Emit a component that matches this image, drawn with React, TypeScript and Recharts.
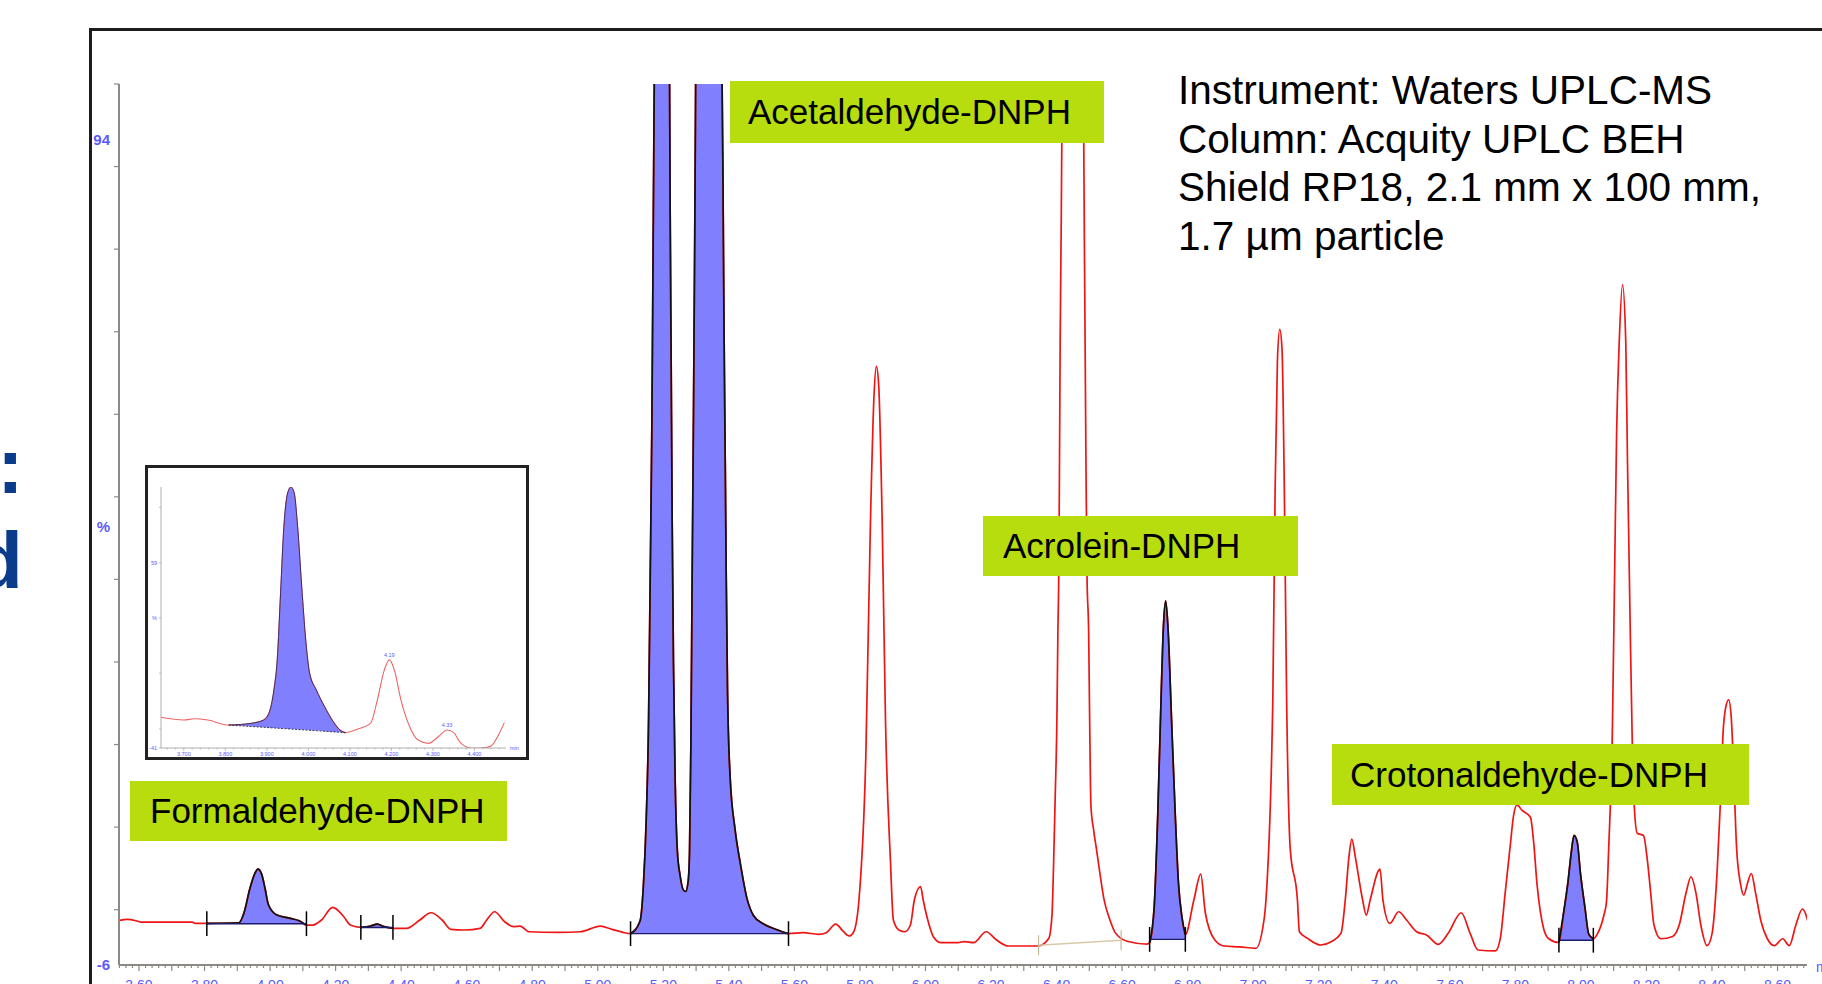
import {
  ComposedChart,
  Line,
  Area,
  XAxis,
  YAxis,
  ReferenceLine,
  ReferenceDot,
} from "recharts";

const FONT = '"Liberation Sans", Arial, Helvetica, sans-serif';
const AXIS_BLUE = "#5a5aff";
const AXIS_GREY = "#8c8883";
const PEAK_BLUE = "#8080ff";
const TRACE_RED = "#ee1515";
const CALLOUT_GREEN = "#b7dd0e";

// Main chromatogram: retention time (min), response (%)
const traceEarly: [number, number][] = [
  [3.541, -0.6], [3.564, -0.47], [3.591, -0.64], [3.605, -0.8], [3.762, -0.8],
  [3.772, -0.95], [3.807, -0.95], [3.905, -0.88], [3.921, 0.39], [3.938, 3.2],
  [3.953, 5.04], [3.963, 5.6], [3.974, 5.04], [3.985, 3.2], [3.995, 1.3],
  [4.021, 0.05], [4.062, -0.35], [4.089, -0.64], [4.111, -1.16], [4.13, -1.16],
  [4.157, -0.55], [4.191, 0.98], [4.225, -0.15], [4.245, -1.16], [4.277, -1.44],
  [4.307, -1.28], [4.327, -1.04], [4.348, -1.36], [4.375, -1.56], [4.416, -1.56],
  [4.457, -0.55], [4.491, 0.33], [4.525, -0.55], [4.552, -1.68], [4.593, -1.76],
  [4.641, -1.56], [4.661, -0.55], [4.685, 0.45], [4.716, -0.76], [4.743, -1.36],
  [4.763, -1.28], [4.79, -1.97], [4.879, -2.04], [4.947, -1.97], [5.008, -1.28],
  [5.043, -1.68], [5.077, -2.04], [5.1, -2.2],
];

const traceAcetaldehyde: [number, number][] = [
  [5.129, -0.67], [5.139, 3.5], [5.148, 11.8], [5.155, 23.6], [5.16, 41],
  [5.165, 59.1], [5.168, 75.8], [5.171, 93.2], [5.174, 110], [5.185, 170],
  [5.196, 190], [5.207, 170], [5.218, 110], [5.221, 84.8], [5.224, 66.7],
  [5.227, 48], [5.231, 30.6], [5.236, 16.7], [5.243, 7.7], [5.251, 4.9],
  [5.261, 3.1], [5.268, 2.9], [5.276, 4.2], [5.28, 7.7], [5.284, 20.2],
  [5.288, 41], [5.292, 60.5], [5.296, 82.7], [5.3, 110], [5.32, 190],
  [5.34, 200], [5.36, 190], [5.377, 110], [5.382, 89.7], [5.385, 72.3],
  [5.389, 54.9], [5.392, 41], [5.396, 27.1], [5.404, 16.7], [5.419, 10.4],
  [5.435, 6.3], [5.455, 2.1], [5.475, 0], [5.506, -1.04], [5.547, -1.73],
  [5.582, -2.2],
];

const traceMiddle: [number, number][] = [
  [5.627, -2.09], [5.674, -2.28], [5.697, -2.09], [5.726, -1.04], [5.75, -1.97],
  [5.767, -2.49], [5.781, -1.97], [5.797, 1.87], [5.818, 19.4], [5.832, 47.5],
  [5.843, 63], [5.85, 66.5], [5.857, 64.4], [5.868, 47.5], [5.878, 23.6],
  [5.893, 6.7], [5.902, -0.55], [5.919, -1.76], [5.937, -1.97], [5.954, -1.16],
  [5.966, 1.87], [5.985, 3.5], [5.993, 1.87], [6.007, -0.55], [6.024, -2.57],
  [6.048, -3.3], [6.095, -3.3], [6.118, -3.18], [6.147, -3.3], [6.185, -1.97],
  [6.217, -2.97], [6.252, -3.7], [6.345, -3.7], [6.376, -2.8], [6.386, 0],
  [6.391, 6.3], [6.396, 14.6], [6.401, 23.6], [6.404, 34.1], [6.407, 42.4],
  [6.409, 54.9], [6.411, 69.5], [6.414, 82.7], [6.416, 93.5], [6.42, 115],
  [6.45, 200], [6.478, 115], [6.483, 93.5], [6.485, 81], [6.49, 53.5],
  [6.493, 41], [6.498, 34.1], [6.501, 23.6], [6.505, 13.2], [6.513, 10.4],
  [6.523, 7.7], [6.533, 4.9], [6.544, 2.1], [6.564, -0.67], [6.579, -2.08],
  [6.615, -3.12], [6.676, -3.46],
];

const traceAcrolein: [number, number][] = [
  [6.684, -3.3], [6.698, 1.1], [6.709, 12.4], [6.719, 26.4], [6.726, 34.9],
  [6.733, 38.1], [6.74, 34.9], [6.751, 23.6], [6.762, 12.4], [6.772, 3.9],
  [6.783, -0.3], [6.793, -2.3], [6.819, 1.87], [6.84, 5.0], [6.854, 0.3],
  [6.883, -2.97], [6.912, -3.7], [6.959, -3.8], [7.008, -3.98], [7.033, -0.55],
  [7.039, 1.87], [7.06, 26.4], [7.067, 51.7], [7.074, 67.2], [7.081, 71.0],
  [7.088, 68.6], [7.095, 51.7], [7.102, 26.4], [7.113, 8.1], [7.135, 1.87],
  [7.141, -1.97], [7.166, -2.77], [7.206, -3.58], [7.238, -3.18], [7.268, -2.16],
  [7.281, 1.87], [7.292, 7.0], [7.301, 9.25], [7.312, 7.0], [7.334, 1.87],
  [7.345, 0.05], [7.357, 1.87], [7.387, 5.6], [7.396, 1.87], [7.417, -0.95],
  [7.444, 0.45], [7.468, -0.55], [7.499, -1.97], [7.529, -2.37], [7.565, -3.5],
  [7.595, -2.16], [7.635, 0.33], [7.662, -2.16], [7.686, -4.18], [7.739, -4.3],
  [7.754, -2.8], [7.769, 2.74], [7.784, 8.3], [7.795, 12.2], [7.805, 13.4],
  [7.82, 12.75], [7.846, 11.9], [7.856, 8.85], [7.866, 3.85], [7.876, 0.51],
  [7.887, -1.7], [7.902, -2.82], [7.933, -3.27],
];

const traceLate: [number, number][] = [
  [7.948, 0.51], [7.96, 3.85], [7.971, 7.74], [7.979, 9.7], [7.989, 8.85],
  [7.999, 4.97], [8.012, 1.07], [8.024, -2.26], [8.038, -2.82], [8.05, -2.26],
  [8.07, 0], [8.078, 1.6], [8.085, 8.3], [8.096, 22.2], [8.103, 41.6],
  [8.109, 58.3], [8.117, 69.4], [8.127, 76.4], [8.137, 69.4], [8.142, 55.5],
  [8.15, 36.1], [8.157, 20.5], [8.162, 13.9], [8.172, 9.96], [8.191, 9.69],
  [8.203, 6.63], [8.213, 2.74], [8.223, -1.16], [8.244, -2.82], [8.28, -2.54],
  [8.3, -1.16], [8.321, 2.74], [8.336, 4.69], [8.351, 2.74], [8.366, -1.16],
  [8.385, -3.65], [8.4, -2.26], [8.416, 5.52], [8.426, 13.9], [8.434, 22.2],
  [8.441, 25.0], [8.451, 26.1], [8.459, 23.9], [8.467, 16.6], [8.475, 8.3],
  [8.487, 3.85], [8.497, 2.46], [8.508, 3.85], [8.52, 5.08], [8.533, 2.74],
  [8.549, -0.6], [8.569, -2.82], [8.59, -3.65], [8.616, -2.82], [8.636, -3.65],
  [8.656, -1.16], [8.676, 0.78], [8.696, -1.16],
];

// integrated (blue) peaks: start / end time and integration baseline
const integrations = [
  { name: "Formaldehyde", start: 3.807, end: 4.111, base: -1.0 },
  { name: "minor", start: 4.277, end: 4.375, base: -1.45 },
  { name: "Acetaldehyde", start: 5.1, end: 5.582, base: -2.2 },
  { name: "Acrolein", start: 6.684, end: 6.793, base: -2.9 },
  { name: "Crotonaldehyde", start: 7.933, end: 8.038, base: -3.0 },
];

// manual (un-integrated) baseline drawn under the big red peak
const manualBaseline: [number, number][] = [[6.345, -3.6], [6.597, -3.0]];

const xTickLabels = [
  "3.60", "3.80", "4.00", "4.20", "4.40", "4.60", "4.80", "5.00", "5.20",
  "5.40", "5.60", "5.80", "6.00", "6.20", "6.40", "6.60", "6.80", "7.00",
  "7.20", "7.40", "7.60", "7.80", "8.00", "8.20", "8.40", "8.60",
];
const yTickValues = [0.7, 10.7, 20.7, 30.7, 40.7, 50.7, 60.7, 70.7, 80.7, 90.7, 100.7];
const yAxisLabels = [
  { value: 94, text: "94" },
  { value: 47.1, text: "%" },
  { value: -6, text: "-6" },
];

const calloutNames = ["Acetaldehyde-DNPH", "Acrolein-DNPH", "Crotonaldehyde-DNPH", "Formaldehyde-DNPH"];
const instrumentNotes = [
  "Instrument: Waters UPLC-MS",
  "Column: Acquity UPLC BEH",
  "Shield RP18, 2.1 mm x 100 mm,",
  "1.7 µm particle",
];

// Inset: zoom on the formaldehyde peak
const insetTrace: [number, number][] = [
  [3.645, -24.4], [3.7, -25.9], [3.725, -25.2], [3.758, -25.9], [3.808, -28.6],
  [3.864, -27.6], [3.892, -25.9], [3.905, -22.2], [3.917, -9.6], [3.925, 6.6],
  [3.933, 42.6], [3.941, 78.6], [3.95, 96.7], [3.958, 100], [3.966, 96.7],
  [3.974, 78.6], [3.985, 42.6], [3.995, 13.8], [4.003, -0.6], [4.019, -9.6],
  [4.039, -18.7], [4.06, -26.8], [4.076, -31.3], [4.089, -32.7], [4.117, -30.9],
  [4.15, -27.6], [4.166, -15.1], [4.183, 1.2], [4.195, 6.6], [4.207, 1.2],
  [4.223, -15.1], [4.244, -29.5], [4.264, -36.7], [4.289, -38.5], [4.313, -34.9],
  [4.334, -31.3], [4.35, -32.7], [4.366, -38.1], [4.395, -41.2], [4.42, -41],
  [4.44, -39.9], [4.46, -33], [4.472, -27.3],
];
// integration baseline under the inset peak (dashed line), read per point
const insetPeakBase: [number, number][] = [
  [3.808, -28.6], [3.864, -29.4], [3.892, -29.8], [3.905, -30.0], [3.917, -30.2],
  [3.925, -30.3], [3.933, -30.4], [3.941, -30.5], [3.95, -30.7], [3.958, -30.8],
  [3.966, -30.9], [3.974, -31.0], [3.985, -31.2], [3.995, -31.3], [4.003, -31.4],
  [4.019, -31.6], [4.039, -31.9], [4.06, -32.3], [4.076, -32.5], [4.089, -32.7],
];
const insetXLabels = ["3.700", "3.800", "3.900", "4.000", "4.100", "4.200", "4.300", "4.400"];
const insetYTicks = [89, 59, 29.3, -0.5, -30.7, -41];
const insetYLabels = [
  { value: 59, text: "59" },
  { value: 29.3, text: "%" },
  { value: -41, text: "-41" },
];
const insetPeakLabels = [
  { t: 4.195, v: 6.6, text: "4.19" },
  { t: 4.334, v: -31.3, text: "4.33" },
];

const trace = [...traceEarly, ...traceAcetaldehyde, ...traceMiddle, ...traceAcrolein, ...traceLate].map(
  ([t, v]) => ({ t, v }),
);

// axis tick positions (every 0.02 min)
const mainXTicks: number[] = [];
for (let i = 354; i <= 868; i += 2) mainXTicks.push(i / 100);
const insetXTicks: number[] = [];
for (let i = 1830; i <= 2235; i += 10) insetXTicks.push(i / 500);

const insetPeakRows = insetPeakBase.map(([t, low]) => {
  const hit = insetTrace.find((p) => p[0] === t);
  const high = hit ? hit[1] : low;
  return { t, r: [low, high], h: high };
});

function MainXTick({ x, y, payload }: any) {
  const label = payload.value.toFixed(2);
  const major = Math.round(payload.value * 100) % 10 === 0;
  return (
    <g>
      <line x1={x} x2={x} y1={y} y2={y + (major ? 6 : 3)} stroke={AXIS_GREY} strokeWidth={1.2} />
      {xTickLabels.includes(label) && (
        <text x={x} y={y + 25} textAnchor="middle" fill={AXIS_BLUE} fontSize={14} fontFamily={FONT}>
          {label}
        </text>
      )}
    </g>
  );
}

function MainYTick({ x, y, payload }: any) {
  const label = yAxisLabels.find((l) => l.value === payload.value);
  if (label) {
    return (
      <text x={x - 9} y={y} dy="0.36em" textAnchor="end" fill={AXIS_BLUE} fontSize={15} fontWeight="bold" fontFamily={FONT}>
        {label.text}
      </text>
    );
  }
  return <line x1={x - 5} x2={x} y1={y} y2={y} stroke={AXIS_GREY} strokeWidth={1.2} />;
}

function InsetXTick({ x, y, payload }: any) {
  const label = payload.value.toFixed(3);
  const major = Math.round(payload.value * 1000) % 100 === 0;
  return (
    <g>
      <line x1={x} x2={x} y1={y} y2={y + (major ? 3 : 1.5)} stroke="#999" strokeWidth={0.6} />
      {insetXLabels.includes(label) && (
        <text x={x} y={y + 7.5} textAnchor="middle" fill={AXIS_BLUE} fontSize={5.5} fontFamily={FONT}>
          {label}
        </text>
      )}
    </g>
  );
}

function InsetYTick({ x, y, payload }: any) {
  const label = insetYLabels.find((l) => l.value === payload.value);
  return (
    <g>
      <line x1={x - 2} x2={x} y1={y} y2={y} stroke="#999" strokeWidth={0.6} />
      {label && (
        <text x={x - 4} y={y} dy="0.35em" textAnchor="end" fill={AXIS_BLUE} fontSize={5.5} fontFamily={FONT}>
          {label.text}
        </text>
      )}
    </g>
  );
}

const calloutBoxes = [
  { left: 730, top: 81, width: 374, height: 62, pad: 18 },
  { left: 983, top: 516, width: 315, height: 60, pad: 20 },
  { left: 1332, top: 744, width: 417, height: 61, pad: 18 },
  { left: 130, top: 781, width: 377, height: 60, pad: 20 },
];

function Inset() {
  return (
    <div
      style={{
        position: "absolute",
        left: 145,
        top: 465,
        width: 378,
        height: 289,
        border: "3px solid #222",
        background: "#fff",
      }}
    >
      <ComposedChart width={378} height={289} data={insetTrace.map(([t, v]) => ({ t, v }))} margin={{ top: 19, right: 20, bottom: 0, left: 0 }}>
        <XAxis
          dataKey="t"
          type="number"
          domain={[3.645, 4.476]}
          allowDataOverflow
          ticks={insetXTicks}
          interval={0}
          height={9}
          tickSize={0}
          tickMargin={0}
          tickLine={false}
          tick={(p: any) => <InsetXTick {...p} />}
          axisLine={{ stroke: "#999", strokeWidth: 0.8 }}
        />
        <YAxis
          type="number"
          domain={[-41, 100]}
          allowDataOverflow
          ticks={insetYTicks}
          interval={0}
          width={13}
          tickSize={0}
          tickMargin={0}
          tickLine={false}
          tick={(p: any) => <InsetYTick {...p} />}
          axisLine={{ stroke: "#999", strokeWidth: 0.8 }}
        />
        <Area data={insetPeakRows} dataKey="r" type="monotone" fill={PEAK_BLUE} fillOpacity={1} stroke="none" isAnimationActive={false} />
        <Line dataKey="v" type="monotone" stroke="#ef6464" strokeWidth={1.1} dot={false} isAnimationActive={false} />
        <Line data={insetPeakRows} dataKey="h" type="monotone" stroke="#26266e" strokeWidth={0.9} dot={false} isAnimationActive={false} />
        <ReferenceLine
          segment={[
            { x: insetPeakBase[0][0], y: insetPeakBase[0][1] },
            { x: insetPeakBase[insetPeakBase.length - 1][0], y: insetPeakBase[insetPeakBase.length - 1][1] },
          ]}
          stroke="#222"
          strokeWidth={0.8}
          strokeDasharray="2 1.5"
        />
        {insetPeakLabels.map((l) => (
          <ReferenceDot
            key={l.text}
            x={l.t}
            y={l.v}
            r={1}
            fill="none"
            stroke="none"
            label={{ value: l.text, position: "top", fontSize: 5.5, fill: AXIS_BLUE, offset: 2, fontFamily: FONT }}
          />
        ))}
        <text x={362} y={282} fontSize={5.5} fill={AXIS_BLUE} fontFamily={FONT}>
          min
        </text>
      </ComposedChart>
    </div>
  );
}

export default function App() {
  return (
    <div
      style={{
        position: "fixed",
        left: 0,
        top: 0,
        width: 1822,
        height: 984,
        overflow: "hidden",
        background: "#fff",
        fontFamily: FONT,
      }}
    >
      <div
        style={{
          position: "absolute",
          left: 89,
          top: 28,
          width: 2000,
          height: 2000,
          border: "3px solid #1c1c1c",
        }}
      />
      <div style={{ position: "absolute", left: 0, top: 0 }}>
        <ComposedChart width={1822} height={984} data={trace} margin={{ top: 84, right: 15, bottom: 0, left: 0 }}>
          <XAxis
            dataKey="t"
            type="number"
            domain={[3.539, 8.69]}
            allowDataOverflow
            ticks={mainXTicks}
            interval={0}
            height={19}
            tickSize={0}
            tickMargin={0}
            tickLine={false}
            tick={(p: any) => <MainXTick {...p} />}
            axisLine={{ stroke: AXIS_GREY, strokeWidth: 2 }}
          />
          <YAxis
            type="number"
            domain={[-6, 100.7]}
            allowDataOverflow
            ticks={[...yTickValues, ...yAxisLabels.map((l) => l.value)]}
            interval={0}
            width={119}
            tickSize={0}
            tickMargin={0}
            tickLine={false}
            tick={(p: any) => <MainYTick {...p} />}
            axisLine={{ stroke: AXIS_GREY, strokeWidth: 2 }}
          />
          {integrations.map((pk) => (
            <Area
              key={`a${pk.name}`}
              data={trace.filter((p) => p.t >= pk.start && p.t <= pk.end)}
              dataKey="v"
              type="monotone"
              baseValue={pk.base}
              fill={PEAK_BLUE}
              fillOpacity={1}
              stroke="none"
              isAnimationActive={false}
            />
          ))}
          <Line dataKey="v" type="monotone" stroke={TRACE_RED} strokeWidth={1.7} dot={false} isAnimationActive={false} />
          {integrations.map((pk) => (
            <Line
              key={`o${pk.name}`}
              data={trace.filter((p) => p.t >= pk.start && p.t <= pk.end)}
              dataKey="v"
              type="monotone"
              stroke="#111"
              strokeWidth={1.7}
              dot={false}
              isAnimationActive={false}
            />
          ))}
          <ReferenceLine
            segment={manualBaseline.map(([x, y]) => ({ x, y }))}
            stroke="#d9c9a9"
            strokeWidth={1.5}
          />
          {manualBaseline.map(([x, y]) => (
            <ReferenceLine
              key={`m${x}`}
              segment={[{ x, y: y - 1.2 }, { x, y: y + 1.2 }]}
              stroke="#c8b89a"
              strokeWidth={1.2}
            />
          ))}
          {integrations.map((pk) => (
            <ReferenceLine
              key={`b${pk.name}`}
              segment={[{ x: pk.start, y: pk.base }, { x: pk.end, y: pk.base }]}
              stroke="#1c1c6e"
              strokeWidth={1.4}
            />
          ))}
          {integrations.flatMap((pk) =>
            [pk.start, pk.end].map((x) => (
              <ReferenceLine
                key={`t${pk.name}${x}`}
                segment={[{ x, y: pk.base - 1.5 }, { x, y: pk.base + 1.5 }]}
                stroke="#000"
                strokeWidth={1.5}
              />
            )),
          )}
        </ComposedChart>
      </div>

      <svg width={1822} height={984} style={{ position: "absolute", left: 0, top: 0, pointerEvents: "none" }}>
        <text x={-3} y={493} fontSize={80} fontWeight="bold" fill="#0b3c8c" fontFamily={FONT}>
          :
        </text>
        <text x={-26} y={588} fontSize={80} fontWeight="bold" fill="#0b3c8c" fontFamily={FONT}>
          d
        </text>
        <text x={1816} y={972} fontSize={14} fill={AXIS_BLUE} fontFamily={FONT}>
          min
        </text>
      </svg>

      {calloutNames.map((name, i) => {
        const b = calloutBoxes[i];
        return (
          <div
            key={name}
            style={{
              position: "absolute",
              left: b.left,
              top: b.top,
              width: b.width,
              height: b.height,
              lineHeight: `${b.height}px`,
              paddingLeft: b.pad,
              boxSizing: "border-box",
              background: CALLOUT_GREEN,
              color: "#000",
              fontSize: 35,
              whiteSpace: "nowrap",
            }}
          >
            {name}
          </div>
        );
      })}

      <div
        style={{
          position: "absolute",
          left: 1178,
          top: 66,
          fontSize: 40.5,
          lineHeight: "48.5px",
          color: "#000",
          whiteSpace: "nowrap",
        }}
      >
        {instrumentNotes.map((line) => (
          <div key={line}>{line}</div>
        ))}
      </div>

      <Inset />
    </div>
  );
}
